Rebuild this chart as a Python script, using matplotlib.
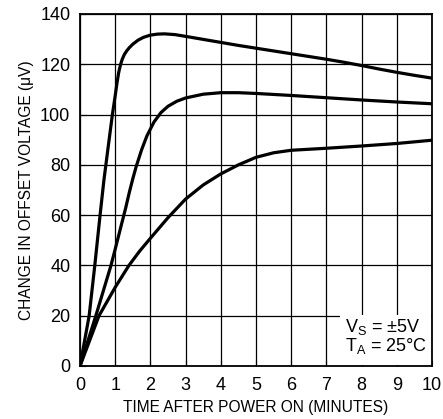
import matplotlib
matplotlib.use("Agg")
import matplotlib.pyplot as plt
from matplotlib.patches import Rectangle

plt.rcParams['font.family'] = ['Liberation Sans Narrow', 'Liberation Sans', 'DejaVu Sans']

# Data
t_fast = [0, 0.26, 0.42, 0.57, 0.68, 0.79, 0.92, 1.0, 1.05, 1.1, 1.15, 1.2, 1.26, 1.33, 1.4, 1.5, 1.65, 1.8, 2.0, 2.2, 2.4, 2.7, 3.0, 3.5, 4.0, 4.5, 5.0, 5.5, 6.0, 6.5, 7.0, 7.5, 8.0, 8.5, 9.0, 9.5, 10.0]
v_fast = [0, 20, 40, 60, 74, 86, 100, 107.5, 112.5, 116.8, 119.8, 122, 123.9, 125.4, 126.6, 128.0, 129.6, 130.7, 131.6, 132.0, 132.1, 131.8, 131.1, 129.9, 128.7, 127.5, 126.4, 125.3, 124.2, 123.1, 122.0, 120.8, 119.5, 118.1, 116.8, 115.6, 114.5]

t_mid = [0, 0.45, 0.88, 1.0, 1.1, 1.2, 1.3, 1.4, 1.5, 1.6, 1.75, 1.9, 2.1, 2.3, 2.5, 2.75, 3.0, 3.5, 4.0, 4.5, 5.0, 6.0, 7.0, 8.0, 9.0, 10.0]
v_mid = [0, 20, 40, 46.5, 52, 57.5, 63, 69, 74.5, 79.5, 86, 91.5, 97, 100.8, 103.3, 105.3, 106.6, 108.1, 108.7, 108.7, 108.4, 107.6, 106.7, 105.8, 105.0, 104.3]

t_slow = [0, 0.54, 1.0, 1.39, 1.7, 2.0, 2.5, 3.0, 3.5, 4.0, 4.5, 5.0, 5.5, 6.0, 6.5, 7.0, 8.0, 9.0, 10.0]
v_slow = [0, 20, 31.3, 40, 45.8, 50.8, 59.0, 66.4, 72.0, 76.4, 80.0, 83.0, 84.8, 85.8, 86.2, 86.6, 87.5, 88.5, 89.8]

x_ticks = list(range(0, 11))
y_ticks = list(range(0, 141, 20))

fig = plt.figure(figsize=(4.43, 4.19), dpi=100)
ax = fig.add_axes([0.1806, 0.1265, 0.7946, 0.8401])

for t, v in [(t_fast, v_fast), (t_mid, v_mid), (t_slow, v_slow)]:
    ax.plot(t, v, color='black', lw=2.3, solid_capstyle='round', solid_joinstyle='round', zorder=3)

ax.set_xlim(0, 10)
ax.set_ylim(0, 140)
ax.set_xticks(x_ticks)
ax.set_yticks(y_ticks)
ax.grid(True, color='black', lw=0.9)
ax.set_axisbelow(True)
for s in ax.spines.values():
    s.set_linewidth(1.3)
ax.tick_params(direction='in', length=4, width=0.8, labelsize=13, pad=7)
ax.tick_params(axis='x', pad=8)

ax.set_xlabel('TIME AFTER POWER ON (MINUTES)', fontsize=11.2)
ax.set_ylabel('CHANGE IN OFFSET VOLTAGE (μV)', fontsize=11.2, labelpad=4)

ax.add_patch(Rectangle((0.739, 0.004), 0.257, 0.141, transform=ax.transAxes,
                       facecolor='white', edgecolor='none', zorder=4))
ax.text(0.753, 0.111, r'V$_\mathregular{S}$ = ±5V', transform=ax.transAxes,
        fontsize=13, va='center', ha='left', zorder=5)
ax.text(0.753, 0.057, r'T$_\mathregular{A}$ = 25°C', transform=ax.transAxes,
        fontsize=13, va='center', ha='left', zorder=5)

fig.savefig('out.png', dpi=100)
